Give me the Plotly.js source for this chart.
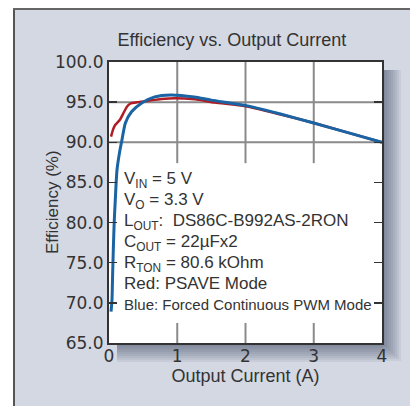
<!DOCTYPE html>
<html>
<head>
<meta charset="utf-8">
<script src="https://cdn.plot.ly/plotly-3.0.1.min.js"></script>
<style>html,body{margin:0;padding:0;background:#fff;}</style>
</head>
<body>
<div id="chart" style="width:410px;height:406px;"></div>
<script>
// Data
const blueX = [0.03, 0.044, 0.053, 0.063, 0.076, 0.092, 0.117, 0.16, 0.19, 0.24, 0.33, 0.48, 0.67, 0.9, 1.25, 1.5, 2.0, 2.5, 3.0, 3.5, 4.0];
const blueY = [68.9, 70.4, 73.5, 76.6, 80.0, 82.8, 86.55, 89.0, 90.3, 92.4, 93.8, 94.9, 95.65, 95.9, 95.65, 95.25, 94.6, 93.55, 92.4, 91.2, 90.0];
const redX = [0.03, 0.06, 0.09, 0.13, 0.16, 0.21, 0.26, 0.31, 0.43, 0.58, 0.77, 0.97, 1.26, 1.55, 2.0, 2.5, 3.0, 3.5, 4.0];
const redY = [90.7, 91.6, 92.15, 92.5, 92.8, 93.6, 94.4, 94.8, 95.0, 95.18, 95.4, 95.5, 95.35, 94.95, 94.5, 93.5, 92.4, 91.2, 90.0];
const xTicks = [0, 1, 2, 3, 4];
const yTicks = [65, 70, 75, 80, 85, 90, 95, 100];
const gridX = [1, 2, 3];
const gridY = [90, 95];
const noteLines = [
  "V<sub>IN</sub> = 5 V",
  "V<sub>O</sub> = 3.3 V",
  "L<sub>OUT</sub>:\u00a0\u00a0DS86C-B992AS-2RON",
  "C<sub>OUT</sub> = 22µFx2",
  "R<sub>TON</sub> = 80.6 kOhm",
  "Red: PSAVE Mode",
  "Blue: Forced Continuous PWM Mode"
];
const noteY = [85.3, 82.7, 80.1, 77.5, 74.9, 72.4, 69.8];

// pixel helpers for decoration (paper coords)
const L = 109, R = 382, T = 62, B = 343;
const px = x => (x - L) / (R - L);
const py = y => (B - y) / (B - T);

const textColor = '#333333';
const shapes = [];
// outer white margin and panel border
shapes.push({type:'rect', xref:'paper', yref:'paper', x0:px(-5), x1:px(13), y0:py(420), y1:py(-5), fillcolor:'#ffffff', line:{width:0}, layer:'below'});
shapes.push({type:'rect', xref:'paper', yref:'paper', x0:px(-5), x1:px(420), y0:py(8), y1:py(-5), fillcolor:'#ffffff', line:{width:0}, layer:'below'});
shapes.push({type:'line', xref:'paper', yref:'paper', x0:px(14), x1:px(14), y0:py(8), y1:py(420), line:{color:'#555555', width:2}});
shapes.push({type:'line', xref:'paper', yref:'paper', x0:px(13), x1:px(420), y0:py(9), y1:py(9), line:{color:'#666666', width:2}});
// drop shadow
for (let i = 1; i <= 9; i++) {
  const w = 2 * i;
  shapes.push({type:'rect', xref:'paper', yref:'paper', x0:px(R + 1), x1:px(R + 1 + w), y0:py(B + w), y1:py(T + 8), fillcolor:'rgba(60,70,95,0.075)', line:{width:0}, layer:'below'});
  shapes.push({type:'rect', xref:'paper', yref:'paper', x0:px(L + 8), x1:px(R + 1), y0:py(B + 1 + w), y1:py(B + 1), fillcolor:'rgba(60,70,95,0.075)', line:{width:0}, layer:'below'});
}
// gridlines
gridY.forEach(v => shapes.push({type:'line', xref:'x', yref:'y', x0:0, x1:4, y0:v, y1:v, line:{color:'#8a8a8a', width:2}, layer:'below'}));
gridX.forEach(v => {
  shapes.push({type:'line', xref:'x', yref:'y', x0:v, x1:v, y0:87.4, y1:100, line:{color:'#8a8a8a', width:2}, layer:'below'});
  shapes.push({type:'line', xref:'x', yref:'y', x0:v, x1:v, y0:65, y1:67.5, line:{color:'#8a8a8a', width:2}, layer:'below'});
});

const annotations = noteLines.map((t, i) => ({
  text: t, x: 0.19, y: noteY[i], xref: 'x', yref: 'y', xanchor: 'left', yanchor: 'middle',
  showarrow: false, align: 'left',
  font: {family: '"Liberation Sans", Arial, sans-serif', size: i === 6 ? 15 : 17, color: textColor}
}));
// y-axis title
annotations.push({text: 'Efficiency (%)', textangle: -90, xref: 'paper', yref: 'paper', x: px(52), y: py(202),
  xanchor: 'center', yanchor: 'middle', showarrow: false,
  font: {family: '"Liberation Sans", Arial, sans-serif', size: 17, color: textColor}});

const traces = [
  {x: redX, y: redY, type: 'scatter', mode: 'lines', line: {color: '#b01c24', width: 2.5, shape: 'spline', smoothing: 0.6}, hoverinfo: 'skip'},
  {x: blueX, y: blueY, type: 'scatter', mode: 'lines', line: {color: '#1a64a4', width: 3, shape: 'spline', smoothing: 0.6}, hoverinfo: 'skip'}
];

const layout = {
  width: 410, height: 406,
  margin: {l: L, r: 410 - R, t: T, b: 406 - B, pad: 0},
  paper_bgcolor: '#d3d8e2',
  plot_bgcolor: '#ffffff',
  showlegend: false,
  title: {text: 'Efficiency vs. Output Current', x: px(232), xref: 'paper', xanchor: 'center', y: 1 - 40 / 406, yref: 'container', yanchor: 'middle',
          font: {family: '"Liberation Sans", Arial, sans-serif', size: 18, color: textColor}},
  xaxis: {range: [0, 4], tickvals: xTicks, ticktext: xTicks.map(String), ticks: '', showgrid: false, zeroline: false,
          showline: true, mirror: true, linecolor: '#333333', linewidth: 2, ticklabelstandoff: -3,
          tickfont: {family: '"DejaVu Sans", sans-serif', size: 17, color: textColor},
          title: {text: 'Output Current (A)', standoff: 4, font: {family: '"Liberation Sans", Arial, sans-serif', size: 18, color: textColor}}},
  yaxis: {range: [65, 100], tickvals: yTicks, ticktext: yTicks.map(v => v.toFixed(1)), ticks: 'inside', ticklen: 8, tickwidth: 1.5, tickcolor: '#333333',
          showgrid: false, zeroline: false, showline: true, mirror: 'ticks', linecolor: '#333333', linewidth: 2,
          tickfont: {family: '"DejaVu Sans", sans-serif', size: 17, color: textColor}},
  shapes: shapes,
  annotations: annotations
};

Plotly.newPlot('chart', traces, layout, {staticPlot: true, displayModeBar: false});
</script>
</body>
</html>
